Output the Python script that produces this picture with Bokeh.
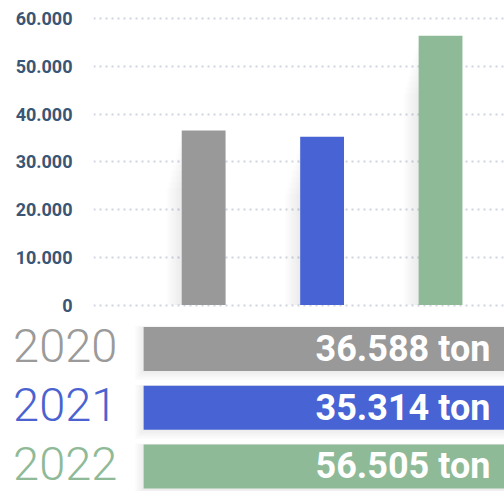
from bokeh.plotting import figure
from bokeh.layouts import column
from bokeh.models import Range1d, FixedTicker, ColumnDataSource
from bokeh.core.properties import value
from bokeh.embed import file_html
from bokeh.resources import INLINE

# ---- data ----
years = [2020, 2021, 2022]
year_labels = ["2020", "2021", "2022"]
tonnes = [36588, 35314, 56505]
value_labels = ["36.588 ton", "35.314 ton", "56.505 ton"]
y_ticks = [0, 10000, 20000, 30000, 40000, 50000, 60000]
y_tick_labels = ["0", "10.000", "20.000", "30.000", "40.000", "50.000", "60.000"]

# ---- style ----
bar_colors = ["#999999", "#4863d4", "#8fba98"]
text_colors = ["#9a9a9a", "#4a63d0", "#8fba98"]
axis_color = "#3b5574"
grid_color = "#cdd4e0"
FONT = "Roboto"

W = 504

# ---- top chart ----
p = figure(width=W, height=318, x_range=Range1d(2019.07, 2022.54),
           y_range=Range1d(-1150, 60520), output_backend="svg",
           toolbar_location=None, tools="", x_axis_location=None)
p.frame_align = False
p.min_border_left = 93
p.min_border_right = 0
p.min_border_top = 16
p.min_border_bottom = 8
p.outline_line_color = None
p.background_fill_color = "white"
p.border_fill_color = "white"

src = ColumnDataSource(dict(x=years, top=tonnes, color=bar_colors))

# soft shadows on the left of each bar
bw = 0.37
for i in range(10):
    off = 0.013 * (i + 1)
    p.vbar(x=[yv - off / 2 for yv in years], top=[t - 1200 * (i + 1) for t in tonnes],
           bottom=0, width=bw + off, fill_color="black", fill_alpha=0.006,
           line_color=None)

p.vbar(x="x", top="top", bottom=0, width=bw, fill_color="color",
       line_color=None, source=src)

p.xgrid.visible = False
p.yaxis.ticker = FixedTicker(ticks=y_ticks)
p.yaxis.major_label_overrides = {t: l for t, l in zip(y_ticks, y_tick_labels)}
p.yaxis.axis_line_color = None
p.yaxis.major_tick_line_color = None
p.yaxis.minor_tick_line_color = None
p.yaxis.major_label_standoff = 15
p.yaxis.major_label_text_font = FONT
p.yaxis.major_label_text_font_style = "bold"
p.yaxis.major_label_text_font_size = "18px"
p.yaxis.major_label_text_color = axis_color
p.ygrid.grid_line_color = grid_color
p.ygrid.grid_line_width = 2
p.ygrid.grid_line_dash = "2 4"

# ---- bottom legend rows ----
rows = [2, 1, 0]
q = figure(width=W, height=173, x_range=Range1d(0, 1), y_range=Range1d(-0.426, 2.519),
           output_backend="svg", toolbar_location=None, tools="",
           x_axis_location=None, y_axis_location=None)
q.frame_align = False
q.min_border_left = 0
q.min_border_right = 0
q.min_border_top = 0
q.min_border_bottom = 0
q.grid.visible = False
q.outline_line_color = None

src2 = ColumnDataSource(dict(y=rows, year=year_labels, val=value_labels,
                             bcolor=bar_colors, tcolor=text_colors))
for i in range(6):
    q.hbar(y=[r - 0.012 * (i + 1) for r in rows], left=0.284 - 0.003 * (i + 1), right=1.0,
           height=0.75 + 0.03 * (i + 1), fill_color="black", fill_alpha=0.01,
           line_color=None)
q.hbar(y="y", left=0.284, right=1.0, height=0.75, fill_color="bcolor",
       line_color=None, source=src2)
q.text(x=0.025, y="y", text="year", text_color="tcolor", source=src2,
       text_font=value("Roboto Light"), text_font_size="47px", y_offset=-3,
       text_baseline="middle", text_align="left")
q.text(x=0.972, y="y", text="val", text_color="white", source=src2,
       text_font=value(FONT), text_font_style="bold", text_font_size="36px",
       text_baseline="middle", text_align="right")

layout = column(p, q, spacing=0)
open("out.html", "w").write(file_html(layout, INLINE))
